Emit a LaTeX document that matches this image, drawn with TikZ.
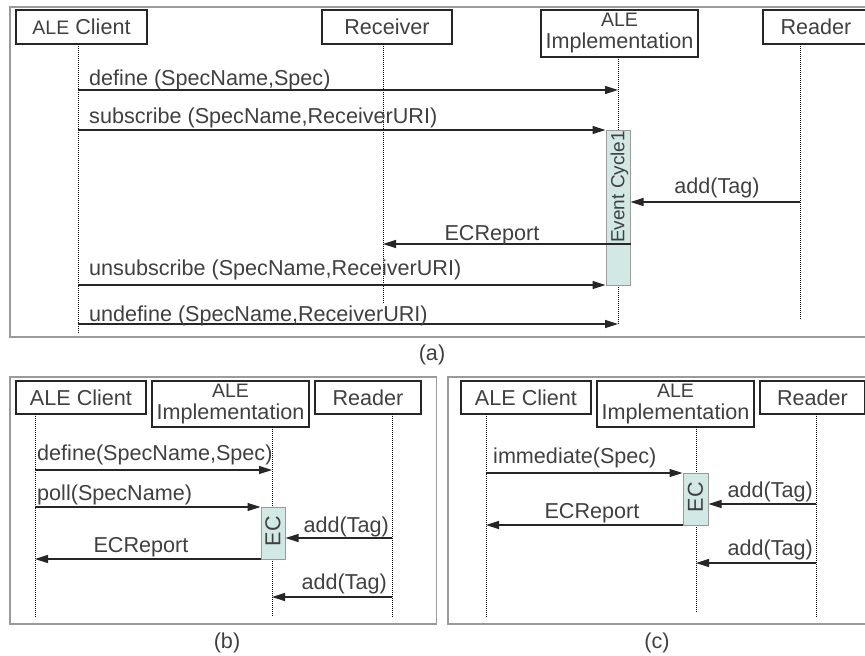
\documentclass[tikz,border=0pt]{standalone}
\usepackage{fontspec}
\setmainfont{Liberation Sans}
\usetikzlibrary{arrows.meta}
\definecolor{txt}{HTML}{404040}
\definecolor{frm}{HTML}{9A9A9A}
\definecolor{actfill}{HTML}{D2E8E5}
\definecolor{actline}{HTML}{9A9A9A}
\newcommand{\smallALE}{{\fontsize{19.5}{19.5}\selectfont ALE}}
\begin{document}
\begin{tikzpicture}[x=1pt,y=-1pt,
  font=\fontsize{21.6}{24}\selectfont,
  lbl/.style={text=txt, inner sep=0pt},
  box/.style={draw=black!85, line width=1.2pt, fill=white, text=txt, inner sep=0pt, align=center},
  frame/.style={draw=frm, line width=1.2pt},
  life/.style={draw=black, line width=0.8pt, dash pattern=on 1pt off 1pt},
  msg/.style={draw=black!85, line width=1.2pt, -{Triangle[length=13pt,width=8pt]}},
  actbox/.style={fill=actfill, draw=actline, line width=1pt, inner sep=0pt}]
\useasboundingbox (0,0) rectangle (865,656);

% ---------------- panel (a) ----------------
\draw[frame] (10,7) rectangle (872,337);
\node[box, minimum width=131pt, minimum height=34pt] (aC) at (81.5,27) {\smallALE{} Client};
\node[box, minimum width=130pt, minimum height=34pt] (aR) at (387,27) {Receiver};
\node[box, minimum width=157pt, minimum height=47pt] (aI) at (619.5,33.5) {\smallALE\\[-2pt]Implementation};
\node[box, minimum width=106pt, minimum height=34pt] (aD) at (816,27) {Reader};

\coordinate (aCt) at (78,44);  \coordinate (aCb) at (78,333);
\coordinate (aRt) at (383,44); \coordinate (aRb) at (383,303);
\coordinate (aIt) at (618,57); \coordinate (aIb) at (618,325);
\coordinate (aDt) at (800,44); \coordinate (aDb) at (800,320);
\draw[life] (aCt) -- (aCb);
\draw[life] (aRt) -- (aRb);
\draw[life] (aIt) -- (aIb);
\draw[life] (aDt) -- (aDb);

\node[actbox, minimum width=24pt, minimum height=155pt] (aEC) at (618,207.5) {};
\node[lbl, rotate=90, anchor=west, font=\fontsize{19}{19}\selectfont] (aECt) at (619.5,243) {Event Cycle1};

\coordinate (am1) at (0,90);
\coordinate (am2) at (0,130);
\coordinate (am3) at (0,202);
\coordinate (am4) at (0,244);
\coordinate (am5) at (0,285);
\coordinate (am6) at (0,324);
\draw[msg] (aCt |- am1) -- (aIt |- am1);
\draw[msg] (aCt |- am2) -- (aEC.west |- am2);
\draw[msg] (aDt |- am3) -- (aEC.east |- am3);
\draw[msg] (aEC.east |- am4) -- (aRt |- am4);
\draw[msg] (aCt |- am5) -- (aEC.west |- am5);
\draw[msg] (aCt |- am6) -- (aIt |- am6);

\node[lbl, anchor=base west] (al1) at (89,85) {define (SpecName,Spec)};
\node[lbl, anchor=base west] (al2) at (89,123) {subscribe (SpecName,ReceiverURI)};
\node[lbl, anchor=base] (al3) at (717,193) {add(Tag)};
\node[lbl, anchor=base] (al4) at (492,240) {ECReport};
\node[lbl, anchor=base west] (al5) at (89,275) {unsubscribe (SpecName,ReceiverURI)};
\node[lbl, anchor=base west] (al6) at (89,321) {undefine (SpecName,ReceiverURI)};
\node[lbl, anchor=base] (acap) at (432,360) {(a)};

% ---------------- panel (b) ----------------
\draw[frame] (10,377) rectangle (436.5,624);
\node[box, minimum width=130pt, minimum height=33pt] (bC) at (81,397.5) {ALE Client};
\node[box, minimum width=157pt, minimum height=46pt] (bI) at (230.5,404) {\smallALE\\[-2pt]Implementation};
\node[box, minimum width=106pt, minimum height=33pt] (bD) at (368,397.5) {Reader};

\coordinate (bCt) at (35,414);  \coordinate (bCb) at (35,617);
\coordinate (bIt) at (272,427); \coordinate (bIb) at (272,617);
\coordinate (bDt) at (392,414); \coordinate (bDb) at (392,617);
\draw[life] (bCt) -- (bCb);
\draw[life] (bIt) -- (bIb);
\draw[life] (bDt) -- (bDb);

\node[actbox, minimum width=24pt, minimum height=52pt] (bEC) at (273,533) {};
\node[lbl, rotate=90] (bECt) at (273,531) {EC};

\coordinate (bm1) at (0,470);
\coordinate (bm2) at (0,507);
\coordinate (bm3) at (0,538);
\coordinate (bm4) at (0,559);
\coordinate (bm5) at (0,597);
\draw[msg] (bCt |- bm1) -- (bIt |- bm1);
\draw[msg] (bCt |- bm2) -- (bEC.west |- bm2);
\draw[msg] (bDt |- bm3) -- (bEC.east |- bm3);
\draw[msg] (bEC.west |- bm4) -- (bCt |- bm4);
\draw[msg] (bDt |- bm5) -- (bIt |- bm5);

\node[lbl, anchor=base west] (bl1) at (37,460) {define(SpecName,Spec)};
\node[lbl, anchor=base west] (bl2) at (37,500) {poll(SpecName)};
\node[lbl, anchor=base east] (bl3) at (389,532) {add(Tag)};
\node[lbl, anchor=base] (bl4) at (141,552) {ECReport};
\node[lbl, anchor=base east] (bl5) at (387,589) {add(Tag)};
\node[lbl, anchor=base] (bcap) at (227,648) {(b)};

% ---------------- panel (c) ----------------
\draw[frame] (448,377) rectangle (872,624);
\node[box, minimum width=130pt, minimum height=33pt] (cC) at (526,397.5) {ALE Client};
\node[box, minimum width=157pt, minimum height=46pt] (cI) at (675.5,404) {\smallALE\\[-2pt]Implementation};
\node[box, minimum width=105pt, minimum height=33pt] (cD) at (812.5,397.5) {Reader};

\coordinate (cCt) at (486,414); \coordinate (cCb) at (486,617);
\coordinate (cIt) at (696,427); \coordinate (cIb) at (696,612);
\coordinate (cDt) at (816,414); \coordinate (cDb) at (816,617);
\draw[life] (cCt) -- (cCb);
\draw[life] (cIt) -- (cIb);
\draw[life] (cDt) -- (cDb);

\node[actbox, minimum width=25pt, minimum height=52pt] (cEC) at (695.5,499) {};
\node[lbl, rotate=90] (cECt) at (695.5,497) {EC};

\coordinate (cm1) at (0,473);
\coordinate (cm2) at (0,504);
\coordinate (cm3) at (0,525);
\coordinate (cm4) at (0,563);
\draw[msg] (cCt |- cm1) -- (cEC.west |- cm1);
\draw[msg] (cDt |- cm2) -- (cEC.east |- cm2);
\draw[msg] (cEC.west |- cm3) -- (cCt |- cm3);
\draw[msg] (cDt |- cm4) -- (cIt |- cm4);

\node[lbl, anchor=base west] (cl1) at (493,463) {immediate(Spec)};
\node[lbl, anchor=base east] (cl2) at (813,497) {add(Tag)};
\node[lbl, anchor=base] (cl3) at (592,518) {ECReport};
\node[lbl, anchor=base east] (cl4) at (813,555) {add(Tag)};
\node[lbl, anchor=base] (ccap) at (657,648) {(c)};
\end{tikzpicture}
\end{document}
